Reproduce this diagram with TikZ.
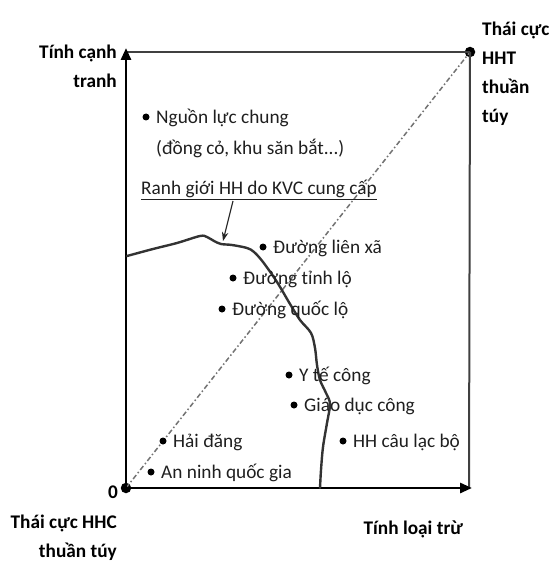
\documentclass[tikz,border=0pt]{standalone}
\usepackage{fontspec}
\setmainfont{Carlito}
\usetikzlibrary{arrows.meta}
\begin{document}
\begin{tikzpicture}[x=1pt,y=-1pt,
  lbl/.style={anchor=base west,inner sep=0pt,font=\fontsize{19.3}{31}\selectfont,text=black!88},
  boldlbl/.style={inner sep=0pt,font=\fontsize{19.3}{29}\selectfont\bfseries,text=black},
  dotmark/.style={circle,fill=black,inner sep=0pt,minimum size=7pt},
  bigdot/.style={circle,fill=black,inner sep=0pt,minimum size=10.5pt},
  axisline/.style={line width=2.8pt,black,-{Triangle[length=12pt,width=10pt]}},
  frameline/.style={line width=2pt,black!75},
  diag/.style={line width=1.5pt,black!55,dash pattern=on 5pt off 2.5pt on 1.5pt off 2.5pt},
  boundary/.style={line width=2.4pt,black!80,line join=round,line cap=round},
  pointer/.style={line width=1.1pt,black!85,-{Stealth[length=9pt,width=6.5pt]}}
]
\useasboundingbox (0,0) rectangle (552,564);

% axes and frame
\coordinate (O) at (126,488);
\coordinate (Ytip) at (126,48);
\coordinate (Xtip) at (472,488);
\coordinate (TL) at (126,52);
\coordinate (BR) at (469,488);
\node[bigdot] (TR) at (470,52) {};
\node[bigdot] (Odot) at (O) {};

\draw[diag] (Odot.center) -- (TR.center);
\draw[frameline] (TL) -- (TR.center);
\draw[frameline] (TR.center) -- (BR);
\draw[axisline] (O) -- (Ytip);
\draw[axisline] (O) -- (Xtip);

% boundary curve
\draw[boundary] plot[smooth,tension=0.55] coordinates {
 (127,256) (153,249) (177,243) (200,236) (207,237) (214,241) (221,244)
 (232,245) (247,248) (254,252) (263,262) (277,282) (290,304) (300,320)
 (311,333) (315,348) (317,365) (320,380) (326,393) (330,404) (327,423)
 (323,447) (321,470) (320,488)};

% axis labels (base anchor = last line)
\node[boldlbl,anchor=base east,align=right] (ycomp) at (117,88) {Tính cạnh\\tranh};
\node[boldlbl,anchor=base west,align=left] (hht) at (482,123) {Thái cực\\HHT\\thuần\\túy};
\node[boldlbl,anchor=base east] (zero) at (118,498) {0};
\node[boldlbl,anchor=base east,align=right] (hhc) at (117,557) {Thái cực HHC\\thuần túy};
\node[boldlbl,anchor=base east] (xcomp) at (463,534) {Tính loại trừ};

% items
\node[dotmark] (d1) at (146,117) {};
\node[lbl,align=left] (t1) at (156,154) {Nguồn lực chung\\(đồng cỏ, khu săn bắt...)};

\node[lbl] (ranh) at (141,194) {\underline{Ranh giới HH do KVC cung cấp}};
\coordinate (pstart) at (233,201);
\coordinate (phit) at (223,241);
\draw[pointer] (pstart) -- (phit);

\node[dotmark] (d2) at (263,247) {};
\node[lbl] (t2) at (273,253) {Đường liên xã};
\node[dotmark] (d3) at (233,278) {};
\node[lbl] (t3) at (243,284) {Đường tỉnh lộ};
\node[dotmark] (d4) at (222,309) {};
\node[lbl] (t4) at (232,315) {Đường quốc lộ};
\node[dotmark] (d5) at (289,375) {};
\node[lbl] (t5) at (299,381) {Y tế công};
\node[dotmark] (d6) at (294,405) {};
\node[lbl] (t6) at (304,411) {Giáo dục công};
\node[dotmark] (d7) at (343,441) {};
\node[lbl] (t7) at (353,447) {HH câu lạc bộ};
\node[dotmark] (d8) at (163,441) {};
\node[lbl] (t8) at (173,447) {Hải đăng};
\node[dotmark] (d9) at (151,472) {};
\node[lbl] (t9) at (161,478) {An ninh quốc gia};
\end{tikzpicture}
\end{document}
